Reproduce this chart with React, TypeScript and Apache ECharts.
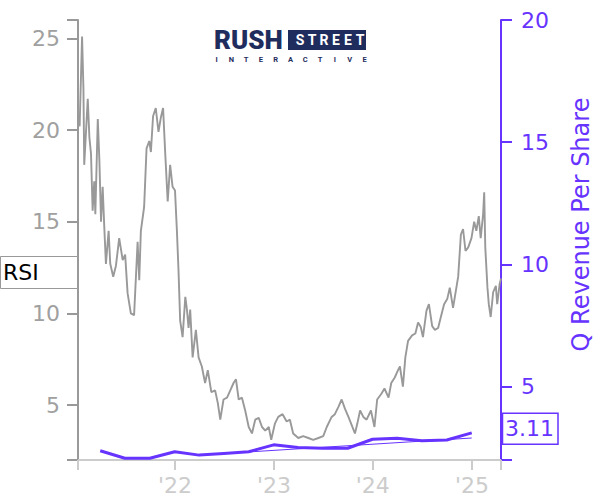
import React, { useEffect, useRef } from "react";
import * as echarts from "echarts";

const ticker = "RSI";
const rightAxisName = "Q Revenue Per Share";
const logoWord = "RUSH";
const logoBoxWord = "STREET";
const logoSubWord = "INTERACTIVE";

const priceDates = [
  "2021-01-10", "2021-01-14", "2021-01-23", "2021-01-28", "2021-01-31", "2021-02-13", "2021-02-19", "2021-02-25",
  "2021-03-03", "2021-03-09", "2021-03-13", "2021-03-22", "2021-03-28", "2021-04-03", "2021-04-09", "2021-04-15",
  "2021-04-21", "2021-05-01", "2021-05-07", "2021-05-18", "2021-05-28", "2021-06-09", "2021-06-22", "2021-07-01",
  "2021-07-10", "2021-07-22", "2021-08-03", "2021-08-16", "2021-08-22", "2021-08-28", "2021-09-09", "2021-09-18",
  "2021-09-28", "2021-10-04", "2021-10-12", "2021-10-22", "2021-11-01", "2021-11-10", "2021-11-18", "2021-11-26",
  "2021-12-05", "2021-12-14", "2021-12-23", "2022-01-01", "2022-01-08", "2022-01-14", "2022-01-20", "2022-01-29",
  "2022-02-08", "2022-02-14", "2022-02-20", "2022-02-26", "2022-03-07", "2022-03-19", "2022-03-29", "2022-04-10",
  "2022-04-22", "2022-05-02", "2022-05-15", "2022-05-29", "2022-06-08", "2022-06-17", "2022-06-29", "2022-07-12",
  "2022-07-24", "2022-08-05", "2022-08-14", "2022-08-24", "2022-09-05", "2022-09-17", "2022-09-30", "2022-10-12",
  "2022-10-24", "2022-11-06", "2022-11-18", "2022-11-30", "2022-12-13", "2022-12-22", "2023-01-05", "2023-01-17",
  "2023-02-02", "2023-02-17", "2023-03-01", "2023-03-13", "2023-04-01", "2023-04-19", "2023-05-08", "2023-05-26",
  "2023-06-14", "2023-07-02", "2023-07-15", "2023-08-02", "2023-08-14", "2023-08-27", "2023-09-08", "2023-09-20",
  "2023-10-03", "2023-10-15", "2023-10-27", "2023-11-05", "2023-11-15", "2023-11-27", "2023-12-09", "2023-12-25",
  "2024-01-07", "2024-01-17", "2024-02-01", "2024-02-13", "2024-02-28", "2024-03-09", "2024-03-22", "2024-04-03",
  "2024-04-10", "2024-04-21", "2024-04-30", "2024-05-10", "2024-05-25", "2024-06-06", "2024-06-16", "2024-06-26",
  "2024-07-04", "2024-07-17", "2024-07-26", "2024-08-07", "2024-08-17", "2024-08-29", "2024-09-08", "2024-09-20",
  "2024-10-02", "2024-10-11", "2024-10-23", "2024-11-01", "2024-11-11", "2024-11-21", "2024-11-29", "2024-12-08",
  "2024-12-18", "2024-12-30", "2025-01-09", "2025-01-17", "2025-01-26", "2025-02-02", "2025-02-11", "2025-02-15",
  "2025-02-19", "2025-02-27", "2025-03-04", "2025-03-11", "2025-03-20", "2025-03-30", "2025-04-04", "2025-04-13",
  "2025-04-18",
];
const priceValues = [
  20.5, 20.2, 25.1, 22.3, 18.1, 21.7, 19.6, 18.7,
  15.6, 17.2, 15.4, 20.6, 18.3, 15.0, 16.9, 14.7,
  12.7, 14.5, 12.7, 12.0, 12.6, 14.1, 12.9, 13.2,
  11.1, 10.0, 9.9, 13.9, 11.8, 14.5, 15.8, 19.0,
  19.4, 18.8, 20.75, 21.2, 19.9, 20.7, 21.2, 18.7,
  16.1, 18.1, 16.9, 16.7, 14.5, 12.3, 9.6, 8.7,
  10.9, 10.2, 9.2, 10.2, 7.6, 9.1, 7.6, 7.1,
  6.2, 6.9, 5.7, 5.8, 5.1, 4.2, 5.3, 5.4,
  5.8, 6.2, 6.4, 5.3, 5.4, 4.7, 3.8, 3.45,
  4.2, 4.3, 3.8, 3.6, 3.8, 3.1, 4.0, 4.35,
  4.5, 4.1, 4.2, 3.45, 3.2, 3.3, 3.2, 3.1,
  3.2, 3.3, 3.8, 4.35, 4.5, 4.9, 5.3, 4.8,
  4.35, 3.9, 3.45, 4.0, 4.7, 4.35, 4.2, 4.7,
  3.8, 5.3, 5.6, 5.9, 5.4, 6.2, 6.5, 6.9,
  7.1, 6.0, 7.6, 8.5, 8.8, 8.9, 9.5, 9.25,
  8.7, 10.15, 10.5, 9.3, 9.1, 9.2, 9.8, 10.5,
  10.8, 11.4, 10.3, 11.1, 12.0, 14.3, 14.6, 13.4,
  13.6, 14.1, 15.0, 14.5, 15.3, 14.1, 15.4, 16.6,
  13.6, 11.4, 10.5, 9.8, 11.15, 11.5, 10.5, 11.6,
  11.9,
];

const revenueDates = [
  "2021-03-31", "2021-06-30", "2021-09-30", "2021-12-31",
  "2022-03-31", "2022-06-30", "2022-09-30", "2022-12-31",
  "2023-03-31", "2023-06-30", "2023-09-30", "2023-12-31",
  "2024-03-31", "2024-06-30", "2024-09-30", "2024-12-31",
];
const revenueValues = [
  2.38, 2.07, 2.07, 2.34,
  2.2, 2.27, 2.34, 2.62,
  2.51, 2.48, 2.48, 2.85,
  2.89, 2.79, 2.82, 3.11,
];

const trendDates = ["2022-09-30", "2024-12-31"];
const trendValues = [2.33, 2.9];

const xRange = ["2021-01-08", "2025-04-18"];
const yearTickDates = ["2022-01-01", "2023-01-01", "2024-01-01", "2025-01-01"];
const leftTicks = [2, 5, 10, 15, 20, 25, 26];
const leftLabels = [5, 10, 15, 20, 25];
const rightTicks = [2, 5, 10, 15, 20];
const rightLabels = [5, 10, 15, 20];
const leftRange = [2, 26];
const rightRange = [2, 20];

const PURPLE = "#6633ff";
const GRAY = "#999999";
const LIGHT = "#cccccc";
const NAVY = "#1f2d5e";
const FONT = "DejaVu Sans";

function ts(s: string): number {
  const [y, m, d] = s.split("-").map(Number);
  return new Date(y, m - 1, d).getTime();
}

export default function App() {
  const ref = useRef<HTMLDivElement>(null);

  useEffect(() => {
    if (!ref.current) return;
    const chart = echarts.init(ref.current, null, { renderer: "svg" });

    const pricePts = priceDates.map((d, i) => [ts(d), priceValues[i]]);
    const revPts = revenueDates.map((d, i) => [ts(d), revenueValues[i]]);
    const trendPts = trendDates.map((d, i) => [ts(d), trendValues[i]]);
    const xMin = ts(xRange[0]);
    const xMax = ts(xRange[1]);
    const yearTs = yearTickDates.map(ts);

    const option: any = {
      animation: false,
      textStyle: { fontFamily: FONT },
      grid: { left: 78, right: 99, top: 20, bottom: 40, containLabel: false, outerBoundsMode: "none" },
      xAxis: {
        type: "value",
        min: xMin,
        max: xMax,
        axisLine: { show: true, lineStyle: { color: LIGHT, width: 2 } },
        axisTick: { show: true, length: 10, lineStyle: { color: LIGHT, width: 2 }, customValues: [xMin, ...yearTs, xMax] },
        axisLabel: {
          show: true,
          customValues: yearTs,
          color: LIGHT,
          fontSize: 22,
          fontFamily: FONT,
          margin: 14,
          formatter: (v: number) => "'" + String(new Date(v).getFullYear()).slice(2),
        },
        splitLine: { show: false },
      },
      yAxis: [
        {
          type: "value",
          position: "left",
          min: leftRange[0],
          max: leftRange[1],
          axisLine: { show: true, lineStyle: { color: GRAY, width: 2 } },
          axisTick: { show: true, length: 11, lineStyle: { color: GRAY, width: 2 }, customValues: leftTicks },
          axisLabel: { show: true, customValues: leftLabels, color: "#a0a0a0", fontSize: 22, fontFamily: FONT, margin: 18 },
          splitLine: { show: false },
        },
        {
          type: "value",
          position: "right",
          min: rightRange[0],
          max: rightRange[1],
          axisLine: { show: true, lineStyle: { color: PURPLE, width: 2 } },
          axisTick: { show: true, length: 11, lineStyle: { color: PURPLE, width: 2 }, customValues: rightTicks },
          axisLabel: { show: true, customValues: rightLabels, color: PURPLE, fontSize: 22, fontFamily: FONT, margin: 20 },
          splitLine: { show: false },
        },
      ],
      series: [
        {
          type: "line",
          name: "price",
          yAxisIndex: 0,
          data: pricePts,
          symbol: "none",
          lineStyle: { color: GRAY, width: 1.9 },
          z: 2,
        },
        {
          type: "line",
          name: "revenue",
          yAxisIndex: 1,
          data: revPts,
          symbol: "none",
          lineStyle: { color: PURPLE, width: 3 },
          z: 3,
        },
        {
          type: "line",
          name: "trend",
          yAxisIndex: 1,
          data: trendPts,
          symbol: "none",
          lineStyle: { color: PURPLE, width: 1 },
          z: 3,
        },
      ],
    };

    chart.setOption(option);

    const lastPrice = pricePts[pricePts.length - 1];
    const lastRev = revPts[revPts.length - 1];
    const pP = chart.convertToPixel({ seriesIndex: 0 }, lastPrice) as number[];
    const pR = chart.convertToPixel({ seriesIndex: 1 }, lastRev) as number[];
    const rsiCy = pP[1] - 6;
    const revCy = pR[1] - 4;

    const streetLetters = logoBoxWord.split("").map((ch, i) => ({
      type: "text",
      x: 300 + i * 12,
      y: 40,
      style: { text: ch, fill: "#ffffff", font: "bold 14px Roboto", lineHeight: 12, align: "center", verticalAlign: "middle" },
    }));
    const subLetters = logoSubWord.split("").map((ch, i) => ({
      type: "text",
      x: 216.5 + i * 14.8,
      y: 59.5,
      style: { text: ch, fill: NAVY, font: "bold 7.5px Roboto", lineHeight: 7, align: "center", verticalAlign: "middle" },
    }));

    chart.setOption({
      graphic: [
        {
          type: "text",
          x: 214,
          y: 39.5,
          style: { text: logoWord, fill: NAVY, font: "900 26px Roboto", lineHeight: 20, align: "left", verticalAlign: "middle" },
        },
        { type: "rect", shape: { x: 288, y: 30, width: 78, height: 20 }, style: { fill: NAVY } },
        ...streetLetters,
        ...subLetters,
        {
          type: "text",
          x: 580.5,
          y: 224.5,
          rotation: Math.PI / 2,
          style: {
            text: rightAxisName,
            fill: PURPLE,
            font: `24px '${FONT}'`,
            align: "center",
            verticalAlign: "middle",
          },
        },
        {
          type: "rect",
          z: 1,
          shape: { x: 0.5, y: rsiCy - 16, width: 77, height: 32 },
          style: { fill: "#ffffff", stroke: GRAY, lineWidth: 1 },
        },
        {
          type: "text",
          z: 2,
          x: 3,
          y: rsiCy,
          style: { text: ticker, fill: "#000000", font: `22px '${FONT}'`, align: "left", verticalAlign: "middle" },
        },
        {
          type: "rect",
          z: 1,
          shape: { x: 502.5, y: revCy - 15.5, width: 55.5, height: 31 },
          style: { fill: "#ffffff", stroke: PURPLE, lineWidth: 1.5 },
        },
        {
          type: "text",
          z: 2,
          x: 505,
          y: revCy,
          style: {
            text: revenueValues[revenueValues.length - 1].toFixed(2),
            fill: PURPLE,
            font: `22px '${FONT}'`,
            align: "left",
            verticalAlign: "middle",
          },
        },
      ],
    });

    return () => chart.dispose();
  }, []);

  return (
    <div
      ref={ref}
      style={{ position: "fixed", left: 0, top: 0, width: 600, height: 500, background: "#ffffff" }}
    />
  );
}
